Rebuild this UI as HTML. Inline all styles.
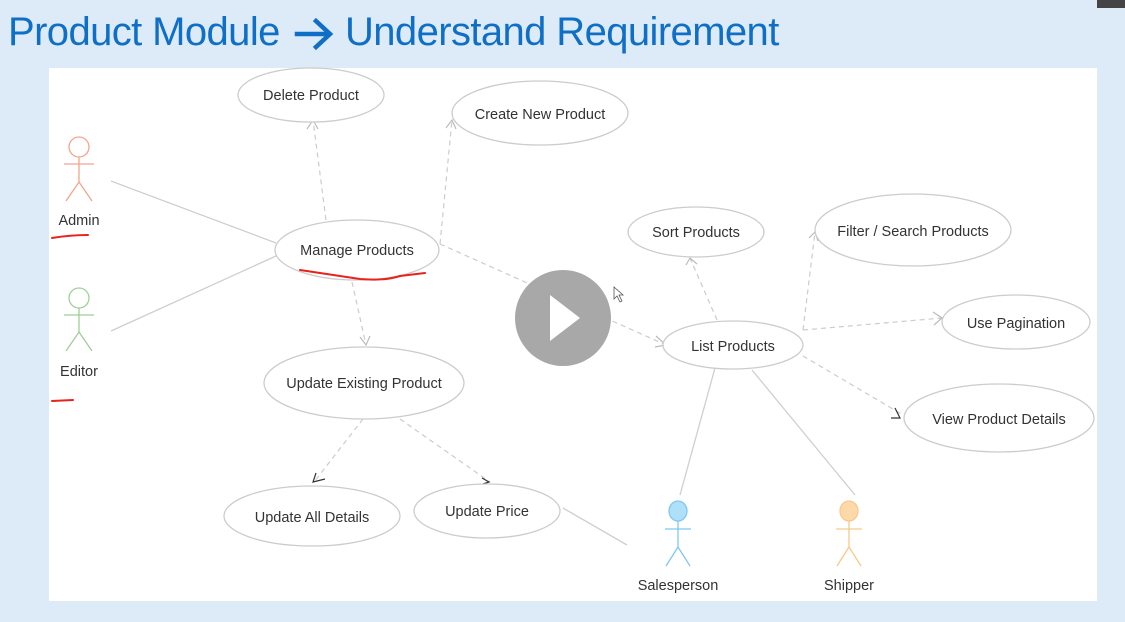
<!DOCTYPE html>
<html><head><meta charset="utf-8"><style>
html,body{margin:0;padding:0;}
body{width:1125px;height:622px;background:#dcebf7;overflow:hidden;position:relative;font-family:"Liberation Sans",sans-serif;}
.t{position:absolute;top:7px;font-size:40px;color:#0f6fc6;letter-spacing:-0.6px;white-space:nowrap;line-height:50px;}
svg{position:absolute;left:0;top:0;}
</style></head><body>
<div class="t" style="left:8px">Product Module</div>
<div class="t" style="left:345px">Understand Requirement</div>
<div style="position:absolute;left:1097px;top:0;width:28px;height:8px;background:#444"></div>
<svg width="1125" height="622" viewBox="0 0 1125 622" font-family="Liberation Sans, sans-serif" font-size="14.5" fill="none">
<g stroke="#0f6fc6" stroke-width="4.5" stroke-linecap="square">
<line x1="297" y1="34" x2="328" y2="34"/>
<polyline points="316,21 330,34 316,47"/>
</g>
<rect x="49" y="68" width="1048" height="533" fill="#fff"/>
<g stroke="#cfcfcf" stroke-width="1.3">
<line x1="111" y1="181" x2="276" y2="243"/>
<line x1="111" y1="331" x2="276" y2="256"/>
<line x1="680" y1="495" x2="715" y2="368"/>
<line x1="855" y1="495" x2="752" y2="370"/>
<line x1="563" y1="508" x2="627" y2="545"/>
</g>
<g stroke="#cccccc" stroke-width="1.2" stroke-dasharray="5,4">
<line x1="326" y1="220" x2="313" y2="120"/>
<line x1="440" y1="244" x2="452" y2="120"/>
<line x1="352" y1="282" x2="366" y2="345"/>
<line x1="440" y1="244" x2="666" y2="345"/>
<line x1="363" y1="419" x2="314" y2="482"/>
<line x1="400" y1="419" x2="490" y2="482"/>
<line x1="717" y1="320" x2="690" y2="258"/>
<line x1="803" y1="330" x2="815" y2="232"/>
<line x1="803" y1="330" x2="942" y2="318"/>
<line x1="803" y1="356" x2="903" y2="415"/>
</g>
<g stroke="#bbbbbb" stroke-width="1.2">
<polyline points="307,129 313,120 318,129"/>
<polyline points="446,128 452,120 456,129"/>
<polyline points="360,337 366,345 370,336"/>
<polyline points="656,336 666,345 655,347"/>
<polyline points="686,265 690,258 697,264"/>
<polyline points="809,238 815,232 818,241"/>
<polyline points="933,312 942,318 934,325"/>
</g>
<g stroke="#333" stroke-width="1.2">
<polyline points="316,473 313,482 325,479"/>
<polyline points="482,478 489,482 483,484"/>
<polyline points="895,408 900,418 891,418"/>
</g>
<g stroke="#cccccc" stroke-width="1.3" fill="#fff">
<ellipse cx="311" cy="95" rx="73" ry="27"/>
<ellipse cx="540" cy="113" rx="88" ry="32"/>
<ellipse cx="357" cy="250" rx="82" ry="30"/>
<ellipse cx="364" cy="383" rx="100" ry="36"/>
<ellipse cx="312" cy="516" rx="88" ry="30"/>
<ellipse cx="487" cy="511" rx="73" ry="27"/>
<ellipse cx="696" cy="232" rx="68" ry="25"/>
<ellipse cx="913" cy="230" rx="98" ry="36"/>
<ellipse cx="1016" cy="322" rx="74" ry="27"/>
<ellipse cx="733" cy="345" rx="70" ry="24"/>
<ellipse cx="999" cy="418" rx="95" ry="34"/>
</g>
<g fill="#333" text-anchor="middle">
<text x="311" y="100">Delete Product</text>
<text x="540" y="119">Create New Product</text>
<text x="357" y="255">Manage Products</text>
<text x="364" y="388">Update Existing Product</text>
<text x="312" y="522">Update All Details</text>
<text x="487" y="516">Update Price</text>
<text x="696" y="237">Sort Products</text>
<text x="913" y="236">Filter / Search Products</text>
<text x="1016" y="328">Use Pagination</text>
<text x="733" y="351">List Products</text>
<text x="999" y="424">View Product Details</text>
<text x="79" y="225">Admin</text>
<text x="79" y="376">Editor</text>
<text x="678" y="590">Salesperson</text>
<text x="849" y="590">Shipper</text>
</g>
<g stroke="#f4a58a" stroke-width="1.3"><circle cx="79" cy="147" r="10" fill="#fff"/><line x1="79" y1="157" x2="79" y2="182"/><line x1="64" y1="164" x2="94" y2="164"/><polyline points="66,201 79,182 92,201"/></g>
<g stroke="#9fcf98" stroke-width="1.3"><circle cx="79" cy="298" r="10" fill="#fff"/><line x1="79" y1="308" x2="79" y2="332"/><line x1="64" y1="315" x2="94" y2="315"/><polyline points="66,351 79,332 92,351"/></g>
<g stroke="#7fc8f0" stroke-width="1.3"><ellipse cx="678" cy="511" rx="9" ry="10" fill="#aee0fa"/><line x1="678" y1="521" x2="678" y2="547"/><line x1="665" y1="529" x2="691" y2="529"/><polyline points="666,566 678,547 690,566"/></g>
<g stroke="#f8c98a" stroke-width="1.3"><ellipse cx="849" cy="511" rx="9" ry="10" fill="#fdd9aa"/><line x1="849" y1="521" x2="849" y2="547"/><line x1="836" y1="529" x2="862" y2="529"/><polyline points="837,566 849,547 861,566"/></g>
<g stroke="#e8231c" stroke-width="2" stroke-linecap="round">
<path d="M52,238 Q70,235 88,235"/>
<path d="M52,401 L73,400"/>
<path d="M300,270 Q340,276 360,279 Q385,281 400,276 L425,273"/>
</g>
<circle cx="563" cy="318" r="48" fill="#a8a8a8"/>
<polygon points="550,295 550,341 580,318" fill="#fff"/>
<path d="M614,287 L614,299 L617,296 L620,302 L622,301 L619,295 L623,295 Z" fill="#fff" stroke="#555" stroke-width="0.8"/>
</svg>
</body></html>
